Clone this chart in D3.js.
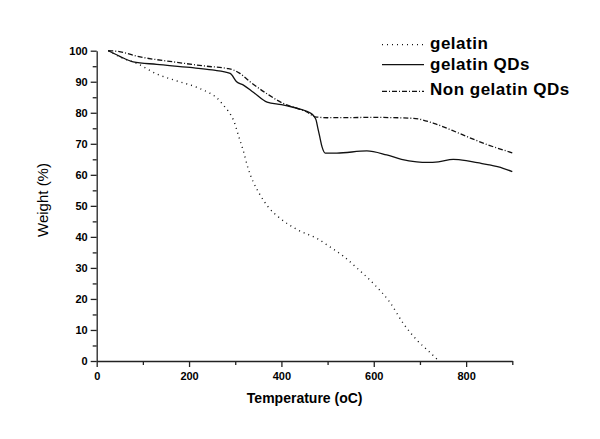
<!DOCTYPE html>
<html>
<head>
<meta charset="utf-8">
<script src="https://cdn.jsdelivr.net/npm/d3@7"></script>
<style>
  body { margin: 0; background: #fff; }
  text { font-family: "Liberation Sans", Arial, sans-serif; fill: #000; }
</style>
</head>
<body>
<div id="chart"></div>
<script>
const WIDTH = 600, HEIGHT = 439;
const MARGIN = {TOP: 50.7, LEFT: 96.7, RIGHT: 600 - 512.3, BOTTOM: 439 - 361};

// gelatin (dotted)
const gelatinT = [25, 50, 87, 130, 166, 217, 231, 245, 260, 274, 285, 296, 310, 317, 328, 339, 354, 371, 397, 436, 477, 505, 534, 564, 599, 635, 664, 693, 720, 741];
const gelatinW = [100, 98, 95.9, 92.5, 90.6, 88.2, 87.3, 86.3, 84.8, 82.5, 80.5, 77.7, 71.2, 68, 62, 57.7, 53.5, 49.7, 46, 42.2, 39.5, 36.8, 33.8, 29.9, 25, 18.9, 12.1, 6.8, 3, 0];

// gelatin QDs (solid)
const qdT = [25, 50, 79, 130, 202, 250, 289, 303, 317, 340, 369, 400, 419, 440, 462, 470, 475, 479, 483, 488, 495, 520, 585, 628, 660, 693, 715, 740, 772, 800, 824, 850, 880, 900];
const qdW = [100, 98.2, 96.4, 95.6, 94.6, 93.8, 92.7, 90, 89, 86.5, 83.4, 82.6, 82, 81.2, 80, 79, 77.7, 75, 72.3, 69, 67, 67, 67.7, 66.4, 65, 64.2, 64, 64.2, 65, 64.6, 63.9, 63.2, 62.1, 61];

// Non gelatin QDs (dash-dot)
const nonT = [25, 44, 94, 166, 238, 285, 296, 310, 332, 370, 404, 430, 455, 473, 500, 600, 686, 730, 770, 802, 850, 900];
const nonW = [100, 99.8, 98, 96.4, 95, 94.2, 93.8, 92.7, 90, 86, 83, 81.6, 80.3, 78.7, 78.4, 78.5, 78.2, 76.6, 74.3, 72.3, 69.5, 67.1];

const seriesNames = ["gelatin", "gelatin QDs", "Non gelatin QDs"];
const dashes = ["1,4", null, "5,2,1,2"];
const series = [
  {T: gelatinT, W: gelatinW},
  {T: qdT, W: qdW},
  {T: nonT, W: nonW}
];

const xTicks = [0, 200, 400, 600, 800];
const yTicks = [0, 10, 20, 30, 40, 50, 60, 70, 80, 90, 100];

const svg = d3.select("#chart").append("svg")
  .attr("width", WIDTH).attr("height", HEIGHT);

const x = d3.scaleLinear().domain([0, 900]).range([MARGIN.LEFT, WIDTH - MARGIN.RIGHT]);
const y = d3.scaleLinear().domain([0, 100]).range([HEIGHT - MARGIN.BOTTOM, MARGIN.TOP]);

// minor ticks
svg.append("g")
  .attr("transform", `translate(0,${y(0)})`)
  .call(d3.axisBottom(x).tickValues(d3.range(100, 901, 200)).tickSize(4).tickFormat(""))
  .call(g => g.select(".domain").remove());
svg.append("g")
  .attr("transform", `translate(${x(0)},0)`)
  .call(d3.axisLeft(y).tickValues(d3.range(5, 100, 10)).tickSize(4).tickFormat(""))
  .call(g => g.select(".domain").remove());

const xAxis = svg.append("g")
  .attr("transform", `translate(0,${y(0)})`)
  .call(d3.axisBottom(x).tickValues(xTicks).tickSize(6).tickSizeOuter(0).tickPadding(5));
const yAxis = svg.append("g")
  .attr("transform", `translate(${x(0)},0)`)
  .call(d3.axisLeft(y).tickValues(yTicks).tickSize(6).tickSizeOuter(0).tickPadding(3));

svg.selectAll(".tick line, .domain").attr("stroke", "#222").attr("stroke-width", 1.3);
[xAxis, yAxis].forEach(a => a.selectAll("text")
  .style("font-family", '"Liberation Sans", Arial, sans-serif')
  .style("font-size", "11px").style("font-weight", "bold").attr("fill", "#000"));

svg.append("text")
  .attr("x", 304.7).attr("y", 403)
  .attr("text-anchor", "middle")
  .style("font-size", "14px").style("font-weight", "bold")
  .text("Temperature (oC)");

svg.append("text")
  .attr("transform", "translate(48,200) rotate(-90)")
  .attr("text-anchor", "middle")
  .style("font-size", "15px")
  .text("Weight (%)");

const line = d3.line()
  .x(d => x(d[0])).y(d => y(d[1]))
  .curve(d3.curveMonotoneX);

series.forEach((s, i) => {
  svg.append("path")
    .datum(s.T.map((t, j) => [t, s.W[j]]))
    .attr("fill", "none")
    .attr("stroke", "#111")
    .attr("stroke-width", i === 0 ? 1.4 : 1.3)
    .attr("stroke-dasharray", dashes[i])
    .attr("d", line);
});

// legend
const legendLineY = [44.7, 64.7, 91.3];
const legendTextY = [48.7, 70.3, 94.7];
seriesNames.forEach((name, i) => {
  svg.append("line")
    .attr("x1", 382).attr("x2", 424)
    .attr("y1", legendLineY[i]).attr("y2", legendLineY[i])
    .attr("stroke", "#111").attr("stroke-width", 1.2)
    .attr("stroke-dasharray", dashes[i]);
  svg.append("text")
    .attr("x", 430).attr("y", legendTextY[i])
    .style("font-size", "17px").style("font-weight", "bold")
    .style("letter-spacing", "0.5px")
    .text(name);
});
</script>
</body>
</html>
